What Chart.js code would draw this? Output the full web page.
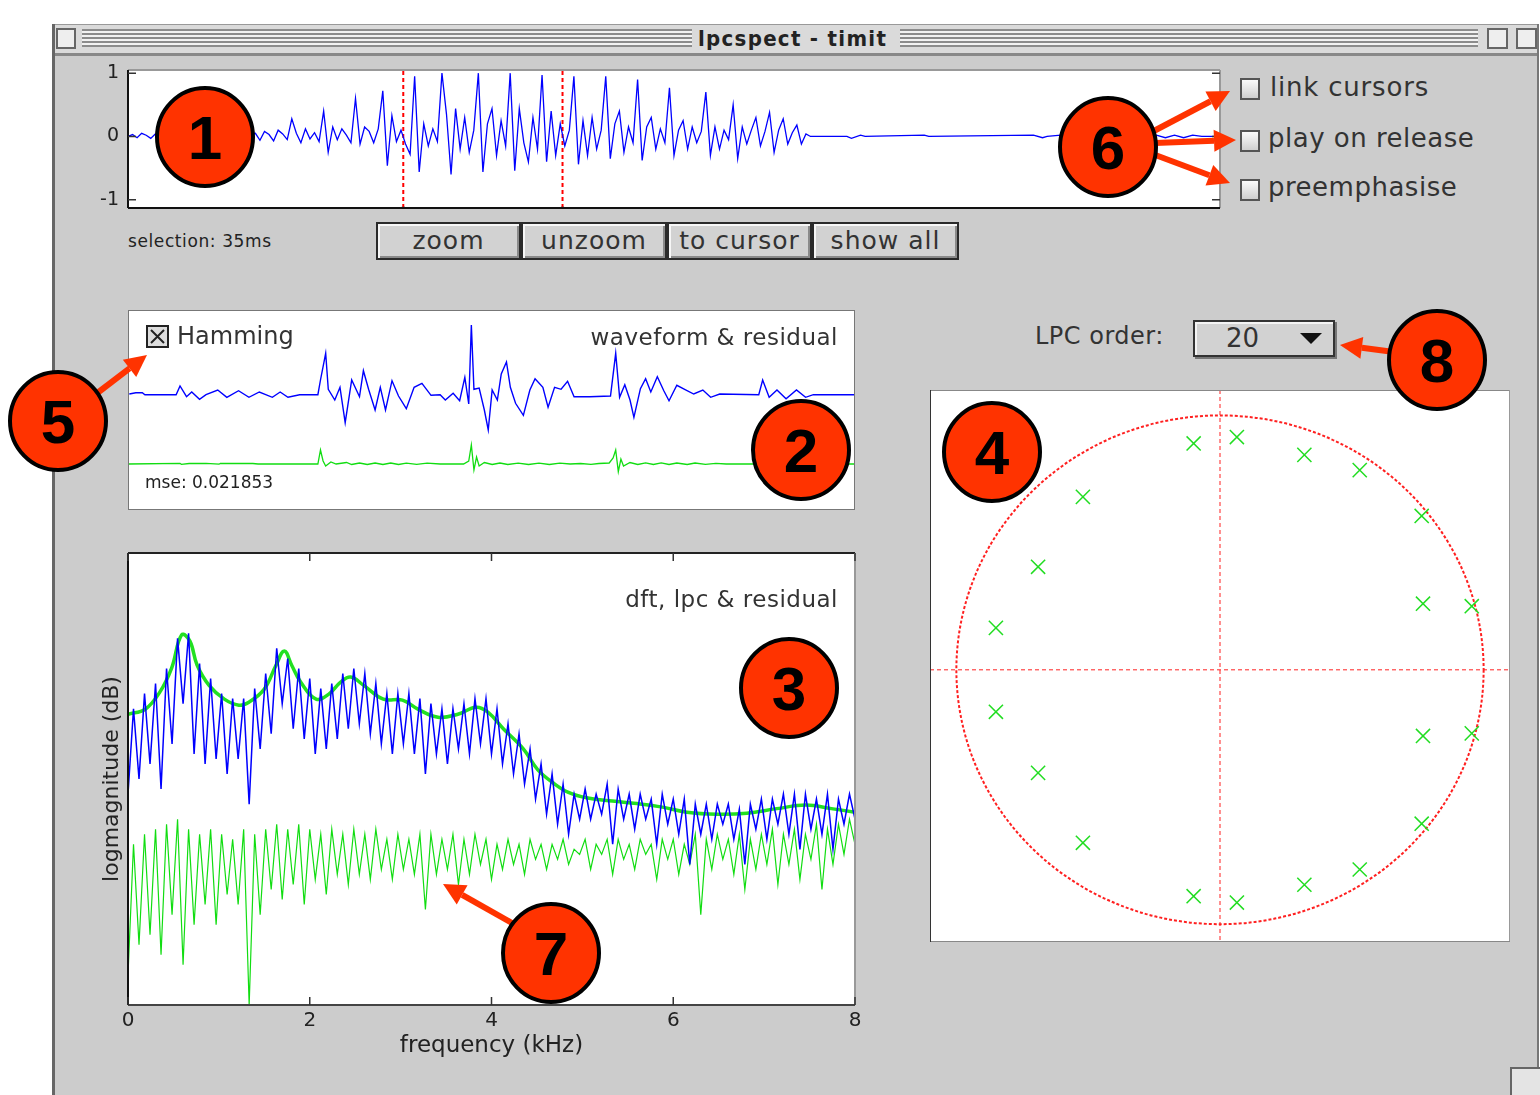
<!DOCTYPE html>
<html>
<head>
<meta charset="utf-8">
<title>lpcspect - timit</title>
<script src="https://cdn.jsdelivr.net/npm/chart.js@4.4.1/dist/chart.umd.min.js"></script>
<style>
  html, body { margin: 0; padding: 0; }
  body { width: 1540px; height: 1095px; position: relative; overflow: hidden; background: #fff;
         font-family: "DejaVu Sans", "Liberation Sans", sans-serif; color: #222; }
  .abs { position: absolute; }
  #win { left: 52px; top: 24px; width: 1487px; height: 1071px; background: #cccccc;
         border-left: 3px solid #666; border-right: 2px solid #777; box-sizing: border-box; }
  #titlebar { left: 55px; top: 24px; width: 1482px; height: 28px; background: #dadada;
              border-top: 1px solid #999; border-bottom: 3px solid #888; }
  .stripes { position: absolute; top: 29px; height: 18px;
             background: repeating-linear-gradient(to bottom, #8c8c8c 0 2px, #f2f2f2 2px 4px); }
  .plot { position: absolute; }
  .btn { position: absolute; top: 222px; height: 38px; background: #d2d2d2; box-sizing: border-box;
         border: 2px solid #2a2a2a; box-shadow: inset 2px 2px #f6f6f6, inset -2px -2px #8a8a8a;
         font-size: 25px; text-align: center; line-height: 33px; color: #333; letter-spacing: 1px; }
  .cb { position: absolute; width: 16px; height: 18px; border: 2px solid #555;
        background: linear-gradient(#fbfbfb, #cfcfcf); }
  .lbl { position: absolute; white-space: nowrap; line-height: 1; }
  #overlay { position: absolute; left: 0; top: 0; z-index: 10; pointer-events: none; }
  .txt { z-index: 5; }
</style>
</head>
<body>

<div id="win" class="abs"></div>
<div id="titlebar" class="abs"></div>
<div class="abs" style="left:56px;top:28px;width:16px;height:17px;border:2px solid #666;background:#eee;"></div>
<div class="stripes" style="left:82px;width:610px;"></div>
<div class="stripes" style="left:900px;width:578px;"></div>
<div class="lbl" style="left:698px;top:26px;font:bold 22px 'DejaVu Sans Condensed','DejaVu Sans',sans-serif;letter-spacing:1.3px;color:#222;">lpcspect - timit</div>
<div class="abs" style="left:1487px;top:28px;width:17px;height:17px;border:2px solid #666;background:#eee;"></div>
<div class="abs" style="left:1516px;top:28px;width:17px;height:17px;border:2px solid #666;background:#eee;"></div>
<div class="abs" style="left:1510px;top:1067px;width:28px;height:28px;border-left:2px solid #666;border-top:2px solid #666;background:#e4e4e4;"></div>

<!-- panel 1: whole utterance -->
<div class="plot" style="left:60px;top:62px;width:1170px;height:153px;"><canvas id="c1"></canvas></div>
<div class="lbl" style="left:128px;top:233px;font-size:17px;letter-spacing:0.6px;">selection: 35ms</div>
<div class="btn" style="left:376px;width:145px;">zoom</div>
<div class="btn" style="left:521px;width:146px;">unzoom</div>
<div class="btn" style="left:667px;width:145px;">to cursor</div>
<div class="btn" style="left:812px;width:147px;">show all</div>

<div class="cb" style="left:1240px;top:78px;"></div>
<div class="lbl" style="left:1270px;top:74px;font-size:26px;letter-spacing:0.8px;color:#333;">link cursors</div>
<div class="cb" style="left:1240px;top:130px;"></div>
<div class="lbl" style="left:1268px;top:125px;font-size:26px;letter-spacing:0.5px;color:#333;">play on release</div>
<div class="cb" style="left:1240px;top:179px;"></div>
<div class="lbl" style="left:1268px;top:174px;font-size:26px;letter-spacing:0.5px;color:#333;">preemphasise</div>

<!-- panel 2: waveform & residual -->
<div class="plot" style="left:128px;top:310px;width:727px;height:200px;"><canvas id="c2"></canvas></div>
<div class="lbl txt" style="left:177px;top:324px;font-size:24px;color:#333;">Hamming</div>
<div class="lbl txt" style="right:702px;top:326px;font-size:23px;letter-spacing:0.5px;color:#333;">waveform &amp; residual</div>
<div class="lbl txt" style="left:145px;top:474px;font-size:17px;">mse: 0.021853</div>

<!-- panel 3: spectra -->
<div class="plot" style="left:95px;top:545px;width:775px;height:520px;"><canvas id="c3"></canvas></div>
<div class="lbl txt" style="right:702px;top:588px;font-size:23px;letter-spacing:0.5px;color:#333;">dft, lpc &amp; residual</div>

<!-- panel 4: poles -->
<div class="lbl" style="left:1035px;top:324px;font-size:24px;letter-spacing:0.5px;color:#333;">LPC order:</div>
<div class="abs" style="left:1193px;top:320px;width:142px;height:37px;box-sizing:border-box;border:2px solid #333;background:#d2d2d2;box-shadow:inset 2px 2px #f4f4f4, 2px 2px #777;"></div>
<div class="lbl" style="left:1226px;top:325px;font-size:26px;color:#333;">20</div>
<div class="plot" style="left:930px;top:390px;width:580px;height:552px;"><canvas id="c4"></canvas></div>

<svg id="overlay" width="1540" height="1095"></svg>

<script>
// ---------- data ----------
// panel 1: whole utterance, one sample per ms (0..150 ms), then the quiet tail
const topWave = [
  0, 0.03, -0.02, 0.05, 0.02, -0.03,
  0.04, -0.05, 0.08, -0.03, 0.02, 0.1, -0.06, 0.03, -0.04, 0.07, 0.02, -0.05, 0.04, 0.09, -0.07, 0.03, 0.05, -0.04, 0.02, 0.06, -0.03, 0.04,
  0.05, -0.06, 0.08, 0.03, -0.07, 0.1, 0.04, -0.05,
  0.28, 0.05, -0.1, 0.12, -0.04, 0.06, -0.08, 0.4, -0.25, 0.15,
  -0.05, 0.12, 0.02, -0.1, 0.6, -0.12, 0.15, 0.08, -0.1, 0.12,
  0.72, -0.46, 0.33, -0.08, 0.1, -0.12, -0.28, 0.95, -0.56, 0.2,
  -0.15, 0.12, -0.08, 1.0, 0.35, -0.6, 0.44, -0.2, 0.3, -0.25,
  0.1, 1.0, -0.56, 0.2, 0.44, -0.3, 0.25, -0.15, 1.0, -0.54,
  0.44, -0.1, -0.4, 0.3, -0.2, 0.97, -0.4, 0.4, -0.3, 0.2,
  -0.15, 0.1, 0.95, -0.44, 0.25, -0.3, 0.3, -0.2, 0.1, 0.95,
  -0.35, 0.2, 0.4, -0.25, 0.15, -0.1, 0.9, -0.38, 0.15, 0.3,
  -0.2, 0.12, -0.1, 0.77, -0.3, 0.1, 0.25, -0.2, 0.15, -0.1,
  0.08, 0.7, -0.3, 0.15, -0.2, 0.1, -0.05, 0.5, -0.35, 0.15,
  -0.12, 0.1, 0.3, -0.15, 0.08, 0.38, -0.25, 0.1, 0.28, -0.12,
  0.06, 0.18, -0.12, 0.04, 0
];
const topTailMs  = [152, 158, 159, 161, 162, 175, 176, 199, 201, 202, 205, 206, 226, 228, 230, 232, 234, 236, 240];
const topTailVal = [0, 0, -0.03, 0.02, 0, 0.02, 0, 0.02, -0.02, 0, 0.02, 0, 0.02, -0.02, 0.02, -0.02, 0.02, 0, 0];
const cursorMs = [60.5, 95.5];
const topTicks = [-1, 0, 1];

// panel 2: 35 ms window (samples) -- windowed waveform and lpc residual
const winSample = [1, 6, 11, 13, 37, 40, 45, 49, 55, 60, 69, 76, 85, 93, 101, 111, 117, 123, 132, 146,
  148, 152, 154, 159, 163, 167, 172, 178, 181, 185, 190, 194, 198, 203, 208, 214, 220, 226, 233, 240,
  244, 250, 255, 259, 262, 264, 266, 270, 274, 277, 280, 284, 287, 291, 294, 298, 304, 309, 313, 319,
  323, 328, 333, 338, 343, 355, 371, 375, 378, 382, 386, 389, 394, 398, 402, 407, 412, 416, 422, 428,
  435, 442, 448, 455, 485, 488, 493, 499, 506, 514, 521, 527, 559];
const winWave = [0, 0.13, 0.13, -0.07, -0.07, 0.8, -0.27, 0.2, -0.53, -0.07, 0.4, -0.33, 0.33, -0.33, 0.2, -0.33, 0.2, -0.33, -0.07, -0.07,
  1.4, 4.07, 0.47, -0.6, 0.67, -2.87, 1.4, -0.27, 2.33, 0.47, -1.6, 0.67, -1.6, 1.33, -0.2, -1.47, 0.67, 1.07, -0.13, -0.07,
  -0.6, 0.07, -0.67, 1.67, -1.0, 6.9, 0.47, 0.6, -1.6, -3.6, 0.4, -0.6, 2.0, 3.2, 0.67, -0.93, -2.13, 0.4, 1.53, 0.67,
  -1.33, 0.67, 0.47, 1.27, -0.27, -0.27, -0.2, 4.07, -0.33, 0.93, -0.6, -2.33, 0.53, 1.53, 0.2, 1.73, 0.33, -0.67, 0.87, 0.47,
  0, 0.4, -0.33, 0, -0.07, 1.4, -0.33, 0.4, -0.47, 0.4, -0.33, -0.07, -0.07];
const resSample = [0, 40, 41, 47, 60, 70, 71, 96, 100, 146, 148, 150, 152, 156, 160, 168, 172, 178, 184, 190,
  196, 202, 208, 214, 222, 230, 240, 258, 262, 264, 266, 268, 270, 274, 280, 286, 292, 300, 308, 316,
  324, 332, 340, 348, 356, 362, 370, 373, 375, 377, 379, 381, 386, 392, 398, 404, 410, 416, 422, 430,
  436, 444, 452, 460, 559];
const resWave = [0, 0.07, -0.03, 0.05, 0.07, -0.02, 0.05, 0.05, 0, 0, 1.4, 0.3, -0.2, 0.2, 0, 0.15, -0.05, 0.1, -0.05, 0.1,
  -0.05, 0.1, -0.05, 0.08, -0.03, 0.08, 0, 0, 0.3, 1.9, -0.6, 0.7, -0.2, 0.15, -0.05, 0.1, -0.05, 0.08, -0.05, 0.08,
  -0.05, 0.08, 0, 0.05, -0.03, 0.05, 0.1, 0.6, 1.4, -0.77, 0.5, -0.2, 0.15, -0.05, 0.12, -0.05, 0.12, -0.05, 0.1, -0.05,
  0.1, -0.03, 0.06, 0, 0];

// panel 3: spectra (dB), dft and residual on 133 evenly spaced bins 0..8 kHz
const dftDb = [
  -28, -11, -25, -8, -22, -6, -27, -3, -18, 3,
  -10, 4, -20, -2, -22, -5, -21, -8, -24, -9,
  -21, -9, -30, -7, -19, -4, -16, 1, -10, -1,
  -15, -3, -17, -5, -20, -7, -19, -6, -17, -4,
  -15, -3, -14, -4, -16, -6, -18, -8, -20, -8,
  -18, -8, -20, -9, -24, -10, -20, -11, -22, -11,
  -19, -10, -20, -9, -18, -9, -20, -11, -22, -14,
  -24, -16, -26, -19, -29, -22, -32, -24, -34, -26,
  -36, -28, -33, -27, -33, -28, -32, -26, -38, -27,
  -33, -28, -35, -28, -33, -29, -38, -28, -34, -29,
  -36, -29, -42, -30, -36, -30, -37, -30, -34, -30,
  -37, -31, -42, -30, -35, -29, -37, -29, -34, -28,
  -36, -28, -39, -28, -35, -29, -36, -28, -39, -29,
  -34, -28, -33
];
const resDb = [
  -64, -38, -58, -36, -56, -35, -60, -34, -52, -33,
  -62, -35, -54, -36, -50, -35, -54, -36, -48, -37,
  -50, -35, -70, -36, -52, -35, -47, -34, -49, -35,
  -46, -34, -50, -35, -45, -36, -48, -35, -44, -36,
  -46, -35, -44, -36, -45, -35, -43, -37, -45, -36,
  -43, -37, -44, -36, -51, -36, -44, -37, -43, -36,
  -46, -37, -44, -36, -42, -37, -45, -38, -43, -37,
  -42, -38, -44, -37, -41, -38, -43, -38, -41, -37,
  -42, -39, -40, -37, -43, -38, -40, -37, -44, -37,
  -41, -38, -43, -37, -40, -38, -45, -37, -41, -37,
  -44, -38, -42, -36, -52, -37, -43, -36, -41, -37,
  -44, -36, -47, -37, -43, -36, -42, -35, -46, -36,
  -42, -35, -45, -36, -41, -34, -47, -35, -42, -34,
  -40, -33, -38
];
const lpcKHz = [0, 0.19, 0.35, 0.48, 0.59, 0.68, 0.76, 0.89, 1.06, 1.22, 1.33, 1.5, 1.63, 1.72, 1.8, 1.9, 2.07, 2.21, 2.34, 2.45,
  2.59, 2.81, 3.02, 3.19, 3.41, 3.63, 3.83, 3.96, 4.13, 4.35, 4.51, 4.68, 4.84, 5.06, 5.33, 5.6, 5.88, 6.15, 6.48, 6.81,
  7.14, 7.46, 7.74, 8.0];
const lpcDb = [-12.1, -11.1, -7.7, -2.9, 3.7, 2.5, -2.3, -6.3, -9.1, -10.3, -9.7, -7.1, -2.3, 0.5, -2.3, -5.7, -9.1, -8.1, -5.7, -4.7,
  -6.3, -9.1, -9.3, -11.1, -12.7, -12.1, -10.7, -11.7, -15, -19, -23.2, -25.8, -27.6, -28.8, -29.4, -29.9, -30.6, -31.6, -32, -31.8,
  -30.9, -30.2, -30.9, -31.6];
const freqTicks = [0, 2, 4, 6, 8];

// panel 4: lpc poles in the z-plane
const poleRe = [-0.10, 0.064, 0.32, 0.53, 0.765, 0.77, 0.955, -0.52, -0.69, -0.85,
                -0.10, 0.064, 0.32, 0.53, 0.765, 0.77, 0.955, -0.52, -0.69, -0.85];
const poleIm = [0.89, 0.915, 0.845, 0.785, 0.605, 0.26, 0.25, 0.68, 0.405, 0.165,
                -0.89, -0.915, -0.845, -0.785, -0.605, -0.26, -0.25, -0.68, -0.405, -0.165];

// ---------- plugins ----------
const frame = {
  id: 'frame',
  beforeDraw(chart) {
    const a = chart.chartArea, ctx = chart.ctx;
    ctx.save();
    ctx.fillStyle = '#fff';
    ctx.fillRect(a.left, a.top, a.right - a.left, a.bottom - a.top);
    ctx.restore();
  },
  afterDraw(chart, args, o) {
    const a = chart.chartArea, ctx = chart.ctx;
    ctx.save();
    ctx.lineWidth = 2;
    const side = (c, x1, y1, x2, y2) => {
      ctx.strokeStyle = c;
      ctx.beginPath(); ctx.moveTo(x1, y1); ctx.lineTo(x2, y2); ctx.stroke();
    };
    side(o.top, a.left, a.top, a.right, a.top);
    side(o.right, a.right, a.top, a.right, a.bottom);
    side(o.bottom, a.left, a.bottom, a.right, a.bottom);
    side(o.left, a.left, a.top, a.left, a.bottom);
    ctx.restore();
  }
};

// matlab style ticks drawn inside the box
const innerTicks = {
  id: 'innerTicks',
  afterDraw(chart, args, o) {
    if (!o.axis) return;
    const s = chart.scales[o.axis], a = chart.chartArea, ctx = chart.ctx;
    ctx.save();
    ctx.strokeStyle = '#333';
    ctx.lineWidth = 1.5;
    s.ticks.forEach(t => {
      const p = s.getPixelForValue(t.value);
      ctx.beginPath();
      if (o.axis === 'x') {
        ctx.moveTo(p, a.bottom); ctx.lineTo(p, a.bottom - o.len);
        ctx.moveTo(p, a.top); ctx.lineTo(p, a.top + o.len);
      } else {
        ctx.moveTo(a.left, p); ctx.lineTo(a.left + o.len, p);
        ctx.moveTo(a.right, p); ctx.lineTo(a.right - o.len, p);
      }
      ctx.stroke();
    });
    ctx.restore();
  }
};

const unitCircle = {
  id: 'unitCircle',
  beforeDatasetsDraw(chart) {
    const ctx = chart.ctx, a = chart.chartArea, x = chart.scales.x, y = chart.scales.y;
    const cx = x.getPixelForValue(0), cy = y.getPixelForValue(0);
    const rx = x.getPixelForValue(1) - cx, ry = cy - y.getPixelForValue(1);
    ctx.save();
    ctx.strokeStyle = '#ff2020';
    ctx.lineWidth = 1;
    ctx.setLineDash([4, 3]);
    ctx.beginPath();
    ctx.moveTo(cx, a.top); ctx.lineTo(cx, a.bottom);
    ctx.moveTo(a.left, cy); ctx.lineTo(a.right, cy);
    ctx.stroke();
    ctx.lineWidth = 2;
    ctx.setLineDash([3, 2]);
    ctx.beginPath();
    ctx.ellipse(cx, cy, rx, ry, 0, 0, Math.PI * 2);
    ctx.stroke();
    ctx.restore();
  }
};

const font = 'DejaVu Sans';
const base = {
  animation: false,
  responsive: true,
  maintainAspectRatio: false,
  events: []
};
const noLegend = { legend: { display: false }, tooltip: { enabled: false } };

// ---------- panel 1 ----------
const topPoints = topWave.map((v, i) => ({ x: i, y: v }))
  .concat(topTailMs.map((t, i) => ({ x: t, y: topTailVal[i] })));

new Chart(document.getElementById('c1'), {
  type: 'line',
  data: {
    datasets: [
      { data: topPoints, borderColor: '#0000ff', borderWidth: 1.3, pointRadius: 0, tension: 0 },
      { data: [{ x: cursorMs[0], y: -1.13 }, { x: cursorMs[0], y: 1.05 }], borderColor: '#ff0000', borderWidth: 2, borderDash: [4, 3], pointRadius: 0 },
      { data: [{ x: cursorMs[1], y: -1.13 }, { x: cursorMs[1], y: 1.05 }], borderColor: '#ff0000', borderWidth: 2, borderDash: [4, 3], pointRadius: 0 },
      { data: cursorMs.map(t => ({ x: t, y: -1.13 })), showLine: false, pointRadius: 2, pointBackgroundColor: '#00cccc', pointBorderWidth: 0 }
    ]
  },
  options: Object.assign({}, base, {
    layout: { autoPadding: false, padding: { top: 8, bottom: 7, right: 10, left: 0 } },
    plugins: Object.assign({}, noLegend, {
      frame: { top: '#999', right: '#999', bottom: '#111', left: '#111' },
      innerTicks: { axis: 'y', len: 8 }
    }),
    scales: {
      x: { type: 'linear', display: false, min: 0, max: 240 },
      y: {
        min: -1.13, max: 1.05,
        afterFit: s => { s.width = 68; s.paddingTop = 0; s.paddingBottom = 0; },
        afterBuildTicks: s => { s.ticks = topTicks.map(v => ({ value: v })); },
        grid: { display: false, drawTicks: false },
        border: { display: false },
        ticks: { padding: 9, color: '#222', font: { family: font, size: 19 } }
      }
    }
  }),
  plugins: [frame, innerTicks]
});

// ---------- panel 2 ----------
new Chart(document.getElementById('c2'), {
  type: 'line',
  data: {
    datasets: [
      { data: winSample.map((s, i) => ({ x: s, y: winWave[i] })), yAxisID: 'y', borderColor: '#0000ff', borderWidth: 1.4, pointRadius: 0, tension: 0 },
      { data: resSample.map((s, i) => ({ x: s, y: resWave[i] })), yAxisID: 'y2', borderColor: '#11dd11', borderWidth: 1.3, pointRadius: 0, tension: 0 }
    ]
  },
  options: Object.assign({}, base, {
    layout: { autoPadding: false, padding: 0 },
    plugins: Object.assign({}, noLegend, {
      frame: { top: '#777', right: '#777', bottom: '#777', left: '#777' }
    }),
    scales: {
      x: { type: 'linear', display: false, min: 0, max: 559 },
      y: { display: false, min: -11.6, max: 8.4 },
      y2: { display: false, min: -4.6, max: 15.4 }
    }
  }),
  plugins: [frame]
});

// ---------- panel 3 ----------
const binKHz = dftDb.map((v, i) => i * 8 / (dftDb.length - 1));
new Chart(document.getElementById('c3'), {
  type: 'line',
  data: {
    datasets: [
      { data: dftDb.map((v, i) => ({ x: binKHz[i], y: v })), borderColor: '#0000ff', borderWidth: 1.5, pointRadius: 0, tension: 0 },
      { data: resDb.map((v, i) => ({ x: binKHz[i], y: v })), borderColor: '#11dd11', borderWidth: 1.2, pointRadius: 0, tension: 0 },
      { data: lpcKHz.map((k, i) => ({ x: k, y: lpcDb[i] })), borderColor: '#22e022', borderWidth: 3.5, pointRadius: 0, tension: 0.4 }
    ]
  },
  options: Object.assign({}, base, {
    layout: { autoPadding: false, padding: { top: 8, right: 15, left: 0, bottom: 0 } },
    plugins: Object.assign({}, noLegend, {
      frame: { top: '#222', right: '#999', bottom: '#444', left: '#111' },
      innerTicks: { axis: 'x', len: 8 }
    }),
    scales: {
      x: {
        type: 'linear', min: 0, max: 8,
        afterFit: s => { s.height = 60; s.paddingLeft = 0; s.paddingRight = 0; },
        afterBuildTicks: s => { s.ticks = freqTicks.map(v => ({ value: v })); },
        grid: { display: false, drawTicks: false },
        border: { display: false },
        ticks: { padding: 4, color: '#222', maxRotation: 0, font: { family: font, size: 20 } },
        title: { display: true, text: 'frequency (kHz)', color: '#222', padding: { top: 0, bottom: 5 }, font: { family: font, size: 23 } }
      },
      y: {
        min: -70, max: 20,
        afterFit: s => { s.width = 33; s.paddingTop = 0; s.paddingBottom = 0; },
        grid: { display: false, drawTicks: false },
        border: { display: false },
        ticks: { display: false },
        title: { display: true, text: 'logmagnitude (dB)', color: '#222', padding: { top: 4, bottom: 0 }, font: { family: font, size: 22 } }
      }
    }
  }),
  plugins: [frame, innerTicks]
});

// ---------- panel 4 ----------
new Chart(document.getElementById('c4'), {
  type: 'scatter',
  data: {
    datasets: [{
      data: poleRe.map((r, i) => ({ x: r, y: poleIm[i] })),
      pointStyle: 'crossRot', pointRadius: 10, borderColor: '#22dd22', borderWidth: 1.5, backgroundColor: '#22dd22'
    }]
  },
  options: Object.assign({}, base, {
    layout: { autoPadding: false, padding: 0 },
    plugins: Object.assign({}, noLegend, {
      frame: { top: '#888', right: '#999', bottom: '#888', left: '#333' }
    }),
    scales: {
      x: { type: 'linear', display: false, min: -1.1, max: 1.1 },
      y: { type: 'linear', display: false, min: -1.07, max: 1.1 }
    }
  }),
  plugins: [frame, unitCircle]
});

// ---------- callouts ----------
const svg = document.getElementById('overlay');
const NS = 'http://www.w3.org/2000/svg';
function el(tag, attrs, text) {
  const e = document.createElementNS(NS, tag);
  for (const k in attrs) e.setAttribute(k, attrs[k]);
  if (text !== undefined) e.textContent = text;
  svg.appendChild(e);
  return e;
}

// hamming check box
el('rect', { x: 147, y: 326, width: 21, height: 21, fill: '#ddd', stroke: '#222', 'stroke-width': 2 });
el('path', { d: 'M151 330 L164 343 M164 330 L151 343', stroke: '#222', 'stroke-width': 2 });
// popup triangle
el('path', { d: 'M1300 333 L1322 333 L1311 344 Z', fill: '#111' });

const arrows = [[96, 394, 147, 355], [1150, 133, 1230, 91], [1155, 143, 1236, 140], [1150, 153, 1230, 183], [512, 923, 443, 884], [1394, 352, 1340, 345]];
arrows.forEach(([x1, y1, x2, y2]) => {
  const dx = x2 - x1, dy = y2 - y1, L = Math.hypot(dx, dy), ux = dx / L, uy = dy / L;
  const hx = x2 - ux * 22, hy = y2 - uy * 22;
  el('line', { x1: x1, y1: y1, x2: hx, y2: hy, stroke: '#ff3300', 'stroke-width': 6 });
  el('path', { d: `M${x2} ${y2} L${hx - uy * 11} ${hy + ux * 11} L${hx + uy * 11} ${hy - ux * 11} Z`, fill: '#ff3300' });
});

const callouts = [[1, 205, 137], [2, 801, 450], [3, 789, 688], [4, 992, 452], [5, 58, 421], [6, 1108, 147], [7, 551, 953], [8, 1437, 360]];
callouts.forEach(([n, cx, cy]) => {
  el('ellipse', { cx: cx, cy: cy, rx: 48, ry: 49, fill: '#ff3300', stroke: '#000', 'stroke-width': 4 });
  el('text', { x: cx, y: cy + 22, 'text-anchor': 'middle', 'font-family': 'Liberation Sans, Arial, sans-serif', 'font-weight': 'bold', 'font-size': 62, fill: '#000' }, String(n));
});
</script>
</body>
</html>
